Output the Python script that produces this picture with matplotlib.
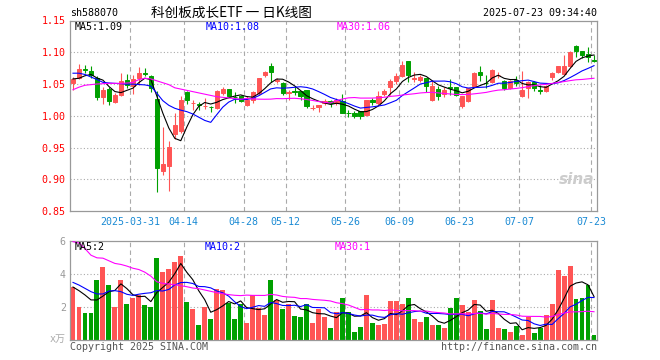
import matplotlib
matplotlib.use('Agg')
import matplotlib.pyplot as plt

# ---------------- data ----------------
opens = [1.051, 1.060, 1.073, 1.071, 1.060, 1.030, 1.042, 1.021, 1.033, 1.056,
         1.047, 1.059, 1.068, 1.063, 1.0265, 0.913, 0.921, 0.971, 0.9755, 1.038,
         1.0197, 1.019, 1.0146, 1.014, 1.0125, 1.036, 1.0427, 1.0302, 1.0307, 1.0177,
         1.0255, 1.0359, 1.0635, 1.0776, 1.0552, 1.051, 1.0365, 1.039, 1.0385, 1.0411,
         1.012, 1.0135, 1.0198, 1.024, 1.0203, 1.0229, 1.004, 1.0036, 1.0067, 1.0005,
         1.0255, 1.0193, 1.0349, 1.0448, 1.0542, 1.062, 1.0865, 1.0578, 1.0562, 1.0594,
         1.0255, 1.0427, 1.0344, 1.0453, 1.0453, 1.0151, 1.024, 1.0463, 1.0682, 1.052,
         1.0526, 1.0641, 1.055, 1.043, 1.0568, 1.0307, 1.0437, 1.0526, 1.040, 1.0385,
         1.0604, 1.0682, 1.0661, 1.0776, 1.1105, 1.1026, 1.0974, 1.0885]
highs = [1.061, 1.082, 1.080, 1.078, 1.062, 1.046, 1.046, 1.036, 1.068, 1.065,
         1.064, 1.077, 1.0755, 1.0646, 1.0385, 0.982, 0.961, 1.004, 1.031, 1.039,
         1.0255, 1.0224, 1.0286, 1.0151, 1.041, 1.046, 1.0427, 1.0375, 1.0333, 1.0307,
         1.0385, 1.0594, 1.0698, 1.0838, 1.0588, 1.0526, 1.0411, 1.0463, 1.0385, 1.0411,
         1.0177, 1.0177, 1.0271, 1.0255, 1.0286, 1.0349, 1.0083, 1.0073, 1.0067, 1.0255,
         1.028, 1.0396, 1.0422, 1.0578, 1.0672, 1.087, 1.0865, 1.0687, 1.0646, 1.060,
         1.0568, 1.0463, 1.0448, 1.0583, 1.0453, 1.0317, 1.0437, 1.0682, 1.0776, 1.0635,
         1.0734, 1.0682, 1.057, 1.056, 1.062, 1.0708, 1.0542, 1.0542, 1.0479, 1.0489,
         1.0687, 1.0787, 1.0958, 1.1026, 1.111, 1.1026, 1.1089, 1.0958]
lows = [1.040, 1.058, 1.067, 1.059, 1.0255, 1.019, 1.0166, 1.020, 1.031, 1.044,
        1.034, 1.049, 1.062, 1.037, 0.8796, 0.906, 0.881, 0.964, 0.973, 1.018,
        1.0083, 1.0088, 1.0109, 1.0057, 1.011, 1.032, 1.0317, 1.0203, 1.0214, 1.0151,
        1.0203, 1.0333, 1.0609, 1.0526, 1.0515, 1.0328, 1.025, 1.0333, 1.025, 1.0125,
        1.0083, 1.0057, 1.0166, 1.014, 1.0166, 1.0036, 0.9984, 0.9968, 0.9953, 0.9994,
        1.0166, 1.0172, 1.0307, 1.0328, 1.050, 1.0609, 1.0526, 1.0531, 1.0526, 1.037,
        1.024, 1.0245, 1.0297, 1.0333, 1.0317, 1.0125, 1.0219, 1.0448, 1.0542, 1.0437,
        1.0515, 1.0594, 1.041, 1.042, 1.0464, 1.0297, 1.0281, 1.0385, 1.0344, 1.0375,
        1.0568, 1.0672, 1.0651, 1.0765, 1.0922, 1.0917, 1.0854, 1.0854]
closes = [1.058, 1.074, 1.072, 1.0635, 1.030, 1.041, 1.024, 1.032, 1.055, 1.048,
          1.058, 1.068, 1.0665, 1.044, 0.918, 0.924, 0.951, 0.985, 1.0255, 1.025,
          1.0208, 1.0175, 1.0156, 1.0135, 1.0385, 1.042, 1.0317, 1.0291, 1.0229, 1.0255,
          1.037, 1.0588, 1.0687, 1.0682, 1.0562, 1.0359, 1.037, 1.038, 1.0317, 1.0151,
          1.0125, 1.0177, 1.024, 1.0198, 1.0245, 1.0047, 1.0036, 0.9994, 0.9994, 1.0255,
          1.0214, 1.0317, 1.0396, 1.0552, 1.063, 1.0802, 1.0635, 1.0588, 1.0604, 1.0463,
          1.0463, 1.0317, 1.0411, 1.044, 1.0333, 1.0307, 1.0437, 1.0672, 1.0635, 1.051,
          1.0724, 1.0646, 1.043, 1.054, 1.0516, 1.0411, 1.0531, 1.0437, 1.0395, 1.0463,
          1.0672, 1.0787, 1.0787, 1.101, 1.1026, 1.0952, 1.0927, 1.087]
volumes = [3.23, 2.01, 1.61, 1.65, 3.63, 4.41, 3.33, 2.01, 3.63, 2.19,
           2.57, 2.73, 2.13, 2.01, 4.96, 4.13, 4.29, 4.72, 5.08, 2.31,
           1.89, 0.92, 2.01, 1.28, 3.09, 3.03, 2.25, 1.28, 2.19, 1.06,
           2.73, 1.95, 1.53, 3.63, 2.43, 1.89, 2.19, 1.46, 1.40, 2.19,
           1.04, 1.89, 1.40, 0.74, 1.71, 2.55, 1.71, 0.50, 0.80, 2.73,
           1.04, 0.92, 0.98, 2.37, 2.37, 2.19, 2.55, 1.28, 1.10, 1.40,
           0.92, 0.92, 0.74, 1.95, 2.55, 2.13, 1.71, 2.43, 1.77, 0.68,
           2.43, 0.74, 0.68, 0.50, 0.86, 0.32, 1.40, 0.44, 0.74, 1.53,
           2.19, 4.23, 3.87, 4.48, 2.49, 2.55, 3.33, 0.32]

# moving-average values at the left edge (they depend on days before the window)
price_ma5_head = [1.058, 1.059, 1.063, 1.065]
price_ma10_head = [1.067, 1.067, 1.065, 1.061, 1.057, 1.0526, 1.0516, 1.051, 1.0505]
price_ma30_head = [1.041, 1.045, 1.048, 1.049, 1.050, 1.0505, 1.051, 1.051, 1.051, 1.0515,
                   1.0525, 1.057, 1.059, 1.058, 1.055, 1.052, 1.049, 1.044, 1.042, 1.040,
                   1.038, 1.036, 1.034, 1.032, 1.030, 1.029, 1.028, 1.027, 1.026]
vol_ma5_head = [3.21, 2.99, 2.73, 2.43]
vol_ma10_head = [3.49, 3.33, 3.13, 2.93, 2.79, 2.79, 2.97, 2.99, 2.93]
vol_ma30_head = [5.96, 5.88, 5.54, 5.14, 4.98, 4.96, 4.80, 4.64, 4.58, 4.48,
                 4.35, 4.27, 4.11, 3.87, 3.53, 3.43, 3.39, 3.35, 3.29, 3.23,
                 3.15, 3.11, 3.03, 2.95, 2.87, 2.81, 2.75, 2.71, 2.69]

tick_idx = [10, 19, 29, 36, 46, 55, 65, 75, 87]
tick_labels = ['2025-03-31', '04-14', '04-28', '05-12', '05-26', '06-09', '06-23', '07-07', '07-23']
price_ticks = [1.15, 1.10, 1.05, 1.00, 0.95, 0.90, 0.85]
price_grid = [1.10, 1.05, 1.00, 0.95, 0.90]
vol_ticks = [6, 4, 2]
vol_grid = [4, 2]

code = 'sh588070'
title = '科创板成长ETF 一 日K线图'
stamp = '2025-07-23 09:34:40'
price_legend = ['MA5:1.09', 'MA10:1.08', 'MA30:1.06']
vol_legend = ['MA5:2', 'MA10:2', 'MA30:1']


def moving_average(values, n, head):
    out = list(head)
    for i in range(len(head), len(values)):
        out.append(sum(values[i - n + 1:i + 1]) / n)
    return out


RED = '#ff5555'
GREEN = '#00a000'
BLUE = '#0000ff'
MAG = '#ff00ff'
GRID = '#aaaaaa'
SPINE = '#999999'
XLAB = '#1a8ad4'
MONO = 'DejaVu Sans Mono'
FS = 7.2

W, H = 660, 360
fig = plt.figure(figsize=(W / 100, H / 100), dpi=100)
fig.patch.set_facecolor('white')


def fx(px):
    return px / W


def fy(py):
    return 1 - py / H


ax = fig.add_axes([fx(70), fy(211), 527 / W, 190.5 / H])
axv = fig.add_axes([fx(70), fy(340), 527 / W, 99 / H])

n = len(closes)
xs = list(range(n))
colors = [RED if c >= o else GREEN for o, c in zip(opens, closes)]

for a in (ax, axv):
    a.set_xlim(-0.5, n - 0.5)
    for s in a.spines.values():
        s.set_color(SPINE)
        s.set_linewidth(0.9)
    for t in tick_idx:
        a.axvline(t - 0.5, color=GRID, lw=0.8, ls=(0, (4, 3)), zorder=0)

# ---- price panel ----
ax.set_ylim(0.85, 1.15)
for g in price_grid:
    ax.axhline(g, color=GRID, lw=0.8, ls=(0, (1, 2)), zorder=0)
ax.vlines(xs, lows, highs, colors=colors, lw=0.8, zorder=2)
bottoms = [min(o, c) for o, c in zip(opens, closes)]
heights = [abs(c - o) for o, c in zip(opens, closes)]
ax.bar(xs, heights, bottom=bottoms, width=0.7, color=colors, edgecolor=colors,
       linewidth=0.7, zorder=3)
ax.plot(xs, moving_average(closes, 5, price_ma5_head), color='black', lw=0.8, zorder=4)
ax.plot(xs, moving_average(closes, 10, price_ma10_head), color=BLUE, lw=0.8, zorder=4)
ax.plot(xs, moving_average(closes, 30, price_ma30_head), color=MAG, lw=0.8, zorder=4)

ax.set_yticks(price_ticks)
ax.set_yticklabels(['%.2f' % v for v in price_ticks], color='red', fontsize=FS, family=MONO)
ax.tick_params(axis='y', length=0, pad=3)
ax.set_xticks([t - 0.5 for t in tick_idx])
ax.set_xticklabels(tick_labels, color=XLAB, fontsize=FS, family=MONO)
ax.tick_params(axis='x', length=0, pad=4)

# ---- volume panel ----
axv.set_ylim(0, 6)
for g in vol_grid:
    axv.axhline(g, color=GRID, lw=0.8, ls=(0, (1, 2)), zorder=0)
axv.bar(xs, volumes, width=0.82, color=colors, linewidth=0, zorder=2)
axv.plot(xs, moving_average(volumes, 5, vol_ma5_head), color='black', lw=0.8, zorder=4)
axv.plot(xs, moving_average(volumes, 10, vol_ma10_head), color=BLUE, lw=0.8, zorder=4)
axv.plot(xs, moving_average(volumes, 30, vol_ma30_head), color=MAG, lw=0.8, zorder=4)
axv.set_yticks(vol_ticks)
axv.set_yticklabels([str(v) for v in vol_ticks], color=SPINE, fontsize=FS, family=MONO)
axv.tick_params(axis='y', length=0, pad=3)
axv.set_xticks([])

# ---- texts ----
fig.text(fx(70), fy(13), code, fontsize=FS, family=MONO, color='black', va='center', ha='left')
fig.text(fx(231), fy(13), title, fontsize=9.8, family=['Noto Sans CJK SC', 'DejaVu Sans'],
         color='black', va='center', ha='center')
fig.text(fx(597), fy(13), stamp, fontsize=FS, family=MONO, color='black', va='center', ha='right')

for label, xp, col in zip(price_legend, [75, 206, 337], ['black', BLUE, MAG]):
    fig.text(fx(xp), fy(27), label, fontsize=FS, family=MONO, color=col, va='center', ha='left')
for label, xp, col in zip(vol_legend, [75, 205, 335], ['black', BLUE, MAG]):
    fig.text(fx(xp), fy(246.5), label, fontsize=FS, family=MONO, color=col, va='center', ha='left')

fig.text(fx(66), fy(339), 'x万', fontsize=FS, family=[MONO, 'Noto Sans CJK SC'],
         color='#aaaaaa', va='center', ha='right')
fig.text(fx(70), fy(347), 'Copyright 2025 SINA.COM', fontsize=FS, family=MONO,
         color='#555555', va='center', ha='left')
fig.text(fx(597), fy(347), 'http://finance.sina.com.cn', fontsize=FS, family=MONO,
         color='#555555', va='center', ha='right')
fig.text(fx(577), fy(180), 'sina', fontsize=11, family='DejaVu Sans', style='italic',
         weight='bold', color='#cccccc', va='center', ha='center', zorder=0)

fig.savefig('out.png', dpi=100, facecolor='white')
